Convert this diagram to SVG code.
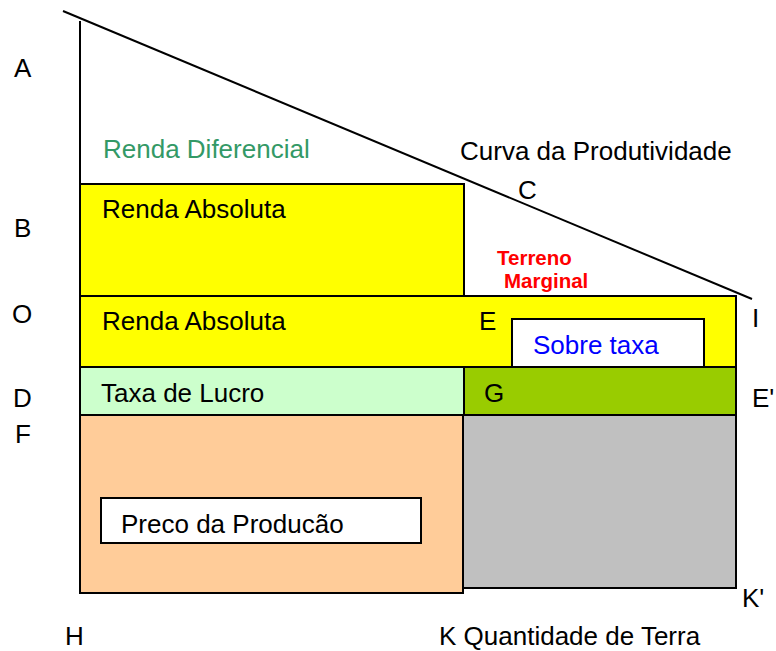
<svg xmlns="http://www.w3.org/2000/svg" width="776" height="651" viewBox="0 0 776 651">
<style>
text{font-family:"Liberation Sans",Arial,sans-serif;font-size:26px;fill:#000}
.box{stroke:#000;stroke-width:2}
.ln{stroke:#000;stroke-width:2;fill:none}
.red{fill:#FF0000;font-weight:bold;font-size:20.5px}
</style>
<rect width="776" height="651" fill="#fff"/>
<g id="connectors">
<line class="ln" x1="63" y1="11" x2="752" y2="299"/>
<line class="ln" x1="80" y1="21" x2="80" y2="231"/>
</g>
<g id="renda-absoluta-top">
<rect class="box" x="80" y="184" width="384" height="112" fill="#FFFF00"/>
<text x="102" y="218">Renda Absoluta</text>
</g>
<g id="renda-absoluta">
<rect class="box" x="80" y="296" width="656" height="71" fill="#FFFF00"/>
<text x="102" y="330">Renda Absoluta</text>
<text x="479" y="330">E</text>
</g>
<g id="sobre-taxa">
<rect class="box" x="512" y="319" width="192" height="48" fill="#FFFFFF"/>
<text x="533" y="354" style="fill:#0000FF">Sobre taxa</text>
</g>
<g id="taxa-lucro">
<rect class="box" x="80" y="367" width="384" height="48" fill="#CCFFCC"/>
<text x="101" y="402">Taxa de Lucro</text>
</g>
<g id="g-box">
<rect class="box" x="464" y="367" width="272" height="48" fill="#99CC00"/>
<text x="484" y="402">G</text>
</g>
<g id="gray-box">
<rect class="box" x="463" y="415" width="273" height="173" fill="#C0C0C0"/>
</g>
<g id="preco-area">
<rect class="box" x="80" y="415" width="383" height="178" fill="#FFCC99"/>
</g>
<g id="preco">
<rect class="box" x="101" y="498" width="320" height="45" fill="#FFFFFF"/>
<text x="121" y="533">Preco da Producão</text>
</g>
<g id="labels">
<text x="103" y="158" style="fill:#339966">Renda Diferencial</text>
<text x="460" y="160">Curva da Produtividade</text>
<text x="518" y="199">C</text>
<text class="red" x="497" y="265">Terreno</text>
<text class="red" x="504" y="288">Marginal</text>
<text x="14" y="77">A</text>
<text x="14" y="237">B</text>
<text x="12" y="323">O</text>
<text x="13" y="407">D</text>
<text x="15" y="443">F</text>
<text x="65" y="645">H</text>
<text x="752" y="327">I</text>
<text x="752" y="407">E'</text>
<text x="742" y="607">K'</text>
<text x="439" y="645">K Quantidade de Terra</text>
</g>
</svg>
